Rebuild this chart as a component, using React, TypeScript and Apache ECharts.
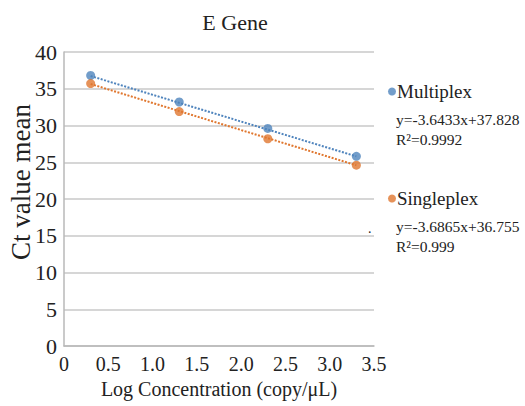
import React, { useEffect, useRef } from "react";
import * as echarts from "echarts";

const title = "E Gene";
const yAxisTitle = "Ct value mean";
const xAxisTitle = "Log Concentration (copy/μL)";
const logConc = [0.301, 1.301, 2.301, 3.301];
const multiplexCt = [36.8, 33.2, 29.6, 25.8];
const singleplexCt = [35.7, 31.9, 28.2, 24.6];
const multiplexTrend = [[0.301, 36.73], [3.301, 25.8]];
const singleplexTrend = [[0.301, 35.645], [3.301, 24.585]];
const multiplexEq = ["y=-3.6433x+37.828", "R²=0.9992"];
const singleplexEq = ["y=-3.6865x+36.755", "R²=0.999"];
const xTickLabels = ["0", "0.5", "1.0", "1.5", "2.0", "2.5", "3.0", "3.5"];

const BLUE = "#4f84bd";
const ORANGE = "#e0772f";
const FONT = "Liberation Serif";

export default function App() {
  const ref = useRef<HTMLDivElement>(null);
  useEffect(() => {
    if (!ref.current) return;
    const chart = echarts.init(ref.current, null, { renderer: "svg" });
    chart.setOption({
      animation: false,
      backgroundColor: "#ffffff",
      textStyle: { fontFamily: FONT },
      title: {
        text: title,
        left: 230,
        top: 6,
        textAlign: "center",
        textStyle: { fontFamily: FONT, fontSize: 22, fontWeight: "normal", color: "#222" },
      },
      grid: { left: 64, right: 151, top: 52, bottom: 60 },
      legend: {
        data: ["Multiplex", "Singleplex"],
        orient: "vertical",
        left: 383,
        top: 77,
        itemGap: 88,
        icon: "circle",
        itemWidth: 8,
        itemHeight: 8,
        textStyle: { fontFamily: FONT, fontSize: 19, color: "#222", padding: [0, 0, 0, -4] },
      },
      xAxis: {
        type: "value",
        min: 0,
        max: 3.5,
        interval: 0.5,
        name: xAxisTitle,
        nameLocation: "middle",
        nameGap: 32,
        nameTextStyle: { fontFamily: FONT, fontSize: 20, color: "#222" },
        axisLine: { show: true, lineStyle: { color: "#b8b8b8", width: 1.5 } },
        axisTick: { show: false },
        splitLine: { show: false },
        axisLabel: {
          fontFamily: FONT,
          fontSize: 20,
          color: "#222",
          margin: 8,
          formatter: (v: number) => xTickLabels[Math.round(v / 0.5)] ?? "",
        },
      },
      yAxis: {
        type: "value",
        min: 0,
        max: 40,
        interval: 5,
        axisLine: { show: true, lineStyle: { color: "#b8b8b8", width: 1.5 } },
        axisTick: { show: false },
        splitLine: { show: true, lineStyle: { color: "#c8c8c8", width: 1.5 } },
        axisLabel: { fontFamily: FONT, fontSize: 22, color: "#222", margin: 7 },
      },
      series: [
        {
          name: "Multiplex trend",
          type: "line",
          data: multiplexTrend,
          showSymbol: false,
          symbol: "none",
          lineStyle: { color: BLUE, width: 2, type: [2, 1.5] },
          z: 1,
        },
        {
          name: "Singleplex trend",
          type: "line",
          data: singleplexTrend,
          showSymbol: false,
          symbol: "none",
          lineStyle: { color: ORANGE, width: 2, type: [2, 1.5] },
          z: 1,
        },
        {
          name: "Multiplex",
          type: "scatter",
          data: logConc.map((x, i) => [x, multiplexCt[i]]),
          symbol: "circle",
          symbolSize: 9,
          itemStyle: { color: BLUE },
          z: 3,
        },
        {
          name: "Singleplex",
          type: "scatter",
          data: logConc.map((x, i) => [x, singleplexCt[i]]),
          symbol: "circle",
          symbolSize: 9,
          itemStyle: { color: ORANGE },
          z: 3,
        },
      ],
      graphic: [
        {
          type: "text",
          x: 21,
          y: 182,
          rotation: Math.PI / 2,
          style: {
            text: yAxisTitle,
            font: `27px ${FONT}`,
            fill: "#222",
            textAlign: "center",
            textVerticalAlign: "middle",
          },
        },
        { type: "text", left: 396, top: 111, style: { text: multiplexEq[0], font: `15.5px ${FONT}`, fill: "#222" } },
        { type: "text", left: 396, top: 131, style: { text: multiplexEq[1], font: `15.5px ${FONT}`, fill: "#222" } },
        { type: "text", left: 396, top: 218, style: { text: singleplexEq[0], font: `15.5px ${FONT}`, fill: "#222" } },
        { type: "text", left: 396, top: 238, style: { text: singleplexEq[1], font: `15.5px ${FONT}`, fill: "#222" } },
        { type: "text", left: 368, top: 221, style: { text: ".", font: `14px ${FONT}`, fill: "#222" } },
      ],
    });
    return () => chart.dispose();
  }, []);
  return <div ref={ref} style={{ width: 525, height: 406, position: "absolute", left: 0, top: 0 }} />;
}
